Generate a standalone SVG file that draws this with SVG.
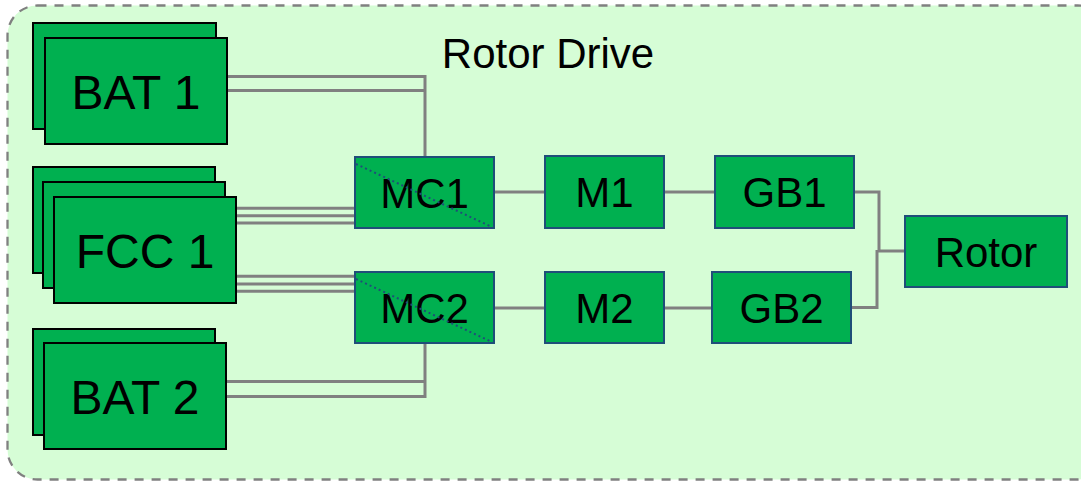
<svg xmlns="http://www.w3.org/2000/svg" width="1081" height="482" viewBox="0 0 1081 482">
<style>
.bg{fill:#d6fdd6;stroke:#808080;stroke-width:2.3;stroke-dasharray:9,8}
.blk{fill:#00b050;stroke:#000;stroke-width:2}
.blu{fill:#00b050;stroke:#1f4e79;stroke-width:2}
.diag{stroke:#1f4e79;stroke-width:2;stroke-dasharray:2,3;fill:none}
.ln{stroke:#808080;stroke-width:3;fill:none}
text{font-family:"Liberation Sans",Arial,sans-serif;fill:#000;text-anchor:middle}
.big{font-size:48px}
.mid{font-size:42px}
</style>
<rect class="bg" x="7.5" y="5.5" width="1100" height="474" rx="30" ry="30"/>
<text class="mid" x="548" y="68">Rotor Drive</text>
<g id="connectors">
<polyline class="ln" points="227,76.5 425,76.5 425,157"/>
<line class="ln" x1="227" y1="90.5" x2="425" y2="90.5"/>
<polyline class="ln" points="226,396.5 425,396.5 425,343"/>
<line class="ln" x1="226" y1="381.5" x2="425" y2="381.5"/>
<line class="ln" x1="236" y1="208.3" x2="355" y2="208.3"/>
<line class="ln" x1="236" y1="215.7" x2="355" y2="215.7"/>
<line class="ln" x1="236" y1="223" x2="355" y2="223"/>
<line class="ln" x1="236" y1="276.3" x2="355" y2="276.3"/>
<line class="ln" x1="236" y1="284" x2="355" y2="284"/>
<line class="ln" x1="236" y1="291.3" x2="355" y2="291.3"/>
<line class="ln" x1="494" y1="192" x2="545" y2="192"/>
<line class="ln" x1="494" y1="308" x2="545" y2="308"/>
<line class="ln" x1="664" y1="192" x2="715" y2="192"/>
<line class="ln" x1="664" y1="308" x2="712" y2="308"/>
<polyline class="ln" points="854,192 879,192 879,251 905,251"/>
<polyline class="ln" points="851,307.5 877,307.5 877,250"/>
</g>
<g id="bat1">
<rect class="blk" x="33" y="23" width="183" height="106"/>
<rect class="blk" x="45" y="38" width="182" height="106"/>
<text class="big" x="136" y="109">BAT 1</text>
</g>
<g id="fcc1">
<rect class="blk" x="33" y="167" width="182" height="106"/>
<rect class="blk" x="43" y="182" width="182" height="106"/>
<rect class="blk" x="54" y="197" width="182" height="106"/>
<text class="big" x="145" y="268">FCC 1</text>
</g>
<g id="bat2">
<rect class="blk" x="33" y="329" width="182" height="106"/>
<rect class="blk" x="44" y="343" width="182" height="106"/>
<text class="big" x="135" y="414">BAT 2</text>
</g>
<g id="mc1">
<rect class="blu" x="355" y="157" width="139" height="71"/>
<text class="mid" x="424.5" y="208">MC1</text>
<line class="diag" x1="356" y1="164" x2="492" y2="227"/>
</g>
<g id="mc2">
<rect class="blu" x="355" y="272" width="139" height="71"/>
<text class="mid" x="424.5" y="323">MC2</text>
<line class="diag" x1="356" y1="279" x2="492" y2="342"/>
</g>
<g id="m1">
<rect class="blu" x="545" y="156" width="119" height="72"/>
<text class="mid" x="604.5" y="207">M1</text>
</g>
<g id="m2">
<rect class="blu" x="545" y="272" width="119" height="71"/>
<text class="mid" x="604.5" y="323">M2</text>
</g>
<g id="gb1">
<rect class="blu" x="715" y="156" width="139" height="72"/>
<text class="mid" x="784.5" y="207">GB1</text>
</g>
<g id="gb2">
<rect class="blu" x="712" y="272" width="139" height="71"/>
<text class="mid" x="781.5" y="323">GB2</text>
</g>
<g id="rotor">
<rect class="blu" x="905" y="216" width="162" height="71"/>
<text class="mid" x="986" y="267">Rotor</text>
</g>
</svg>
